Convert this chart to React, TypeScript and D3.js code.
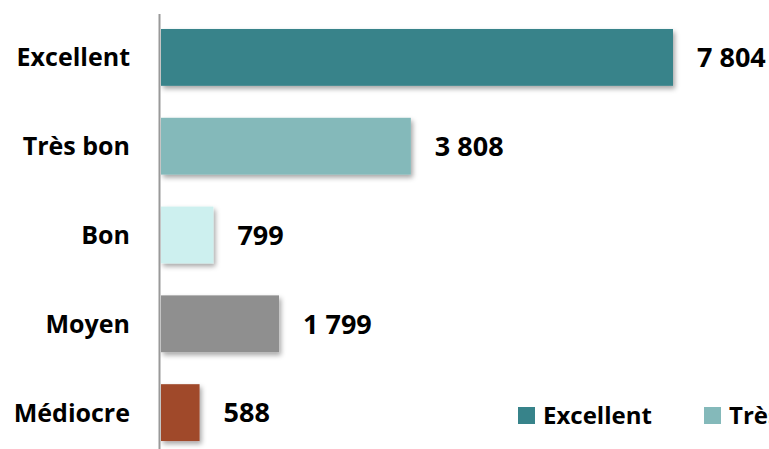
import React from "react";
import * as d3 from "d3";

const categories = ["Excellent", "Très bon", "Bon", "Moyen", "Médiocre"];
const values = [7804, 3808, 799, 1799, 588];
const colors = ["#37838A", "#84B9BA", "#CDF0EF", "#8F8F8F", "#A0492B"];
const legendItems = ["Excellent", "Très bon"];

const W = 769;
const H = 449;
const FONT = "'Open Sans', Lato, sans-serif";

export default function App() {
  const x = d3.scaleLinear().domain([0, 7804]).range([161, 673]);
  const y = d3.scaleBand<string>().domain(categories).range([13, 457]).paddingInner(0.36).paddingOuter(0.18);
  const fmt = (v: number) => d3.format(",")(v).replace(/,/g, " ");
  return (
    <svg width={W} height={H} style={{ position: "absolute", left: 0, top: 0, background: "#fff" }}>
      <defs>
        <filter id="sh" x="-10%" y="-20%" width="130%" height="160%">
          <feDropShadow dx="2" dy="3" stdDeviation="2.5" floodColor="#000" floodOpacity="0.35" />
        </filter>
      </defs>
      {categories.map((c, i) => (
        <g key={c}>
          <rect x={x(0)} y={y(c)!} width={x(values[i]) - x(0)} height={y.bandwidth()} fill={colors[i]} filter="url(#sh)" />
          <text x={130} y={y(c)! + y.bandwidth() / 2} dy="0.36em" textAnchor="end" fontFamily={FONT} fontWeight="bold" fontSize={25} fill="#000">{c}</text>
          <text x={x(values[i]) + 24} y={y(c)! + y.bandwidth() / 2} dy="0.36em" fontFamily={FONT} fontWeight="bold" fontSize={27} fill="#000">{fmt(values[i])}</text>
        </g>
      ))}
      <line x1={159.5} x2={159.5} y1={14} y2={H} stroke="#999" strokeWidth={2} />
      {legendItems.map((l, i) => (
        <g key={l} transform={`translate(${518 + i * 186},0)`}>
          <rect x={0} y={407} width={17} height={17} fill={colors[i]} />
          <text x={25} y={424} fontFamily={FONT} fontWeight="bold" fontSize={24} fill="#000">{l}</text>
        </g>
      ))}
    </svg>
  );
}
